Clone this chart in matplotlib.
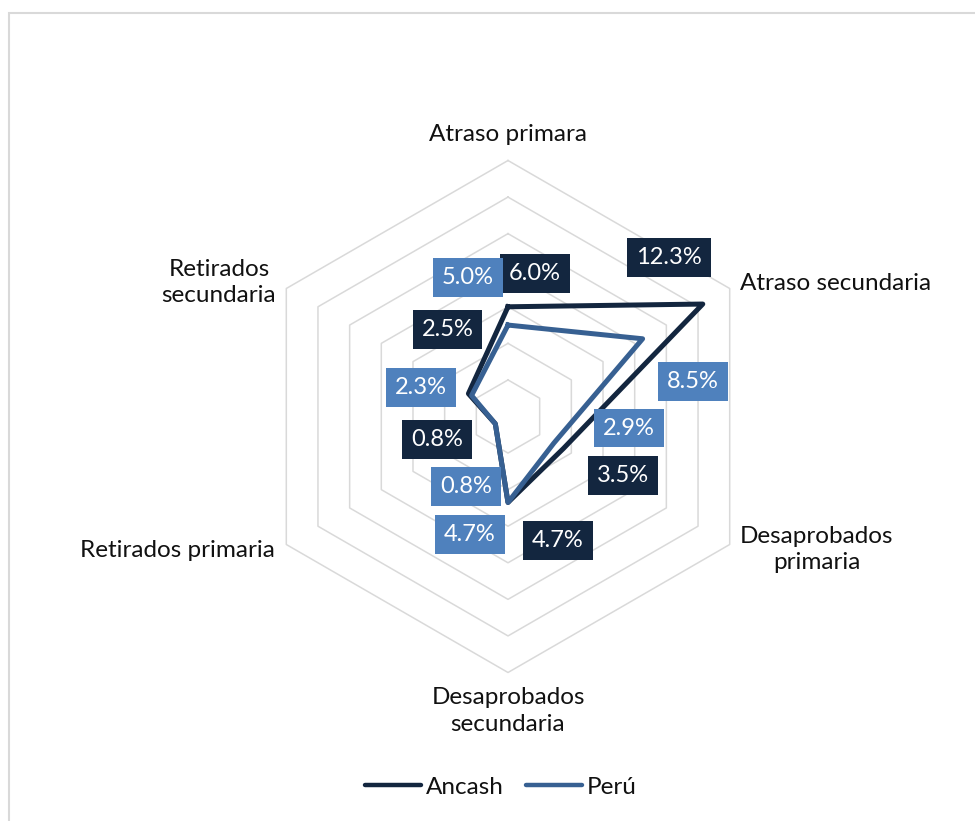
import numpy as np
import matplotlib
matplotlib.use("Agg")
import matplotlib.pyplot as plt
from matplotlib.patches import Rectangle

plt.rcParams["font.family"] = ["Lato", "DejaVu Sans"]

# data
categories = [
    "Atraso primara",
    "Atraso secundaria",
    "Desaprobados\nprimaria",
    "Desaprobados\nsecundaria",
    "Retirados primaria",
    "Retirados\nsecundaria",
]
ancash = [6.0, 12.3, 3.5, 4.7, 0.8, 2.5]
peru = [5.0, 8.5, 2.9, 4.7, 0.8, 2.3]
series_names = ["Ancash", "Perú"]
ring_values = [2, 4, 6, 8, 10, 12, 14]

# styling
c_ancash = "#13263f"
c_peru = "#376092"
box_ancash = "#13263f"
box_peru = "#4f81bd"
grid_c = "#d9d9d9"
txt_c = "#111111"

W, H, DPI = 975, 821, 100
cx_px, cy_px = 508, 416.5          # centre of the radar in pixels (from top)
px_per_unit = 256.0 / 14           # outer ring radius / axis max

fig = plt.figure(figsize=(W / DPI, H / DPI), dpi=DPI)
ax = fig.add_axes([0, 0, 1, 1])
ax.set_xlim(-cx_px / px_per_unit, (W - cx_px) / px_per_unit)
ax.set_ylim(-(H - cy_px) / px_per_unit, cy_px / px_per_unit)
ax.set_aspect("equal")
ax.axis("off")

n = len(categories)
ang = np.deg2rad(np.arange(n) * 360.0 / n)


def to_xy(vals):
    vals = np.asarray(vals, dtype=float)
    return vals * np.sin(ang), vals * np.cos(ang)


# hexagonal grid
for rv in ring_values:
    gx, gy = to_xy([rv] * n)
    ax.plot(np.append(gx, gx[0]), np.append(gy, gy[0]), color=grid_c,
            lw=1.1, zorder=1)

# series
for vals, col in [(ancash, c_ancash), (peru, c_peru)]:
    x, y = to_xy(vals)
    ax.plot(np.append(x, x[0]), np.append(y, y[0]), color=col, lw=3.6,
            solid_joinstyle="round", zorder=3)

# data labels (offsets in pixels from each point)
off_ancash = [(27, 33), (-34, 47), (60, -27), (50, -38), (-58, -16), (-21, 64)]
off_peru = [(-40, 48), (50, -43), (75, 15), (-38, -32), (-29, -63), (-51, 8)]
for vals, offs, bc in [(ancash, off_ancash, box_ancash),
                       (peru, off_peru, box_peru)]:
    x, y = to_xy(vals)
    for xi, yi, v, o in zip(x, y, vals, offs):
        ax.annotate(f"{v:.1f}%", (xi, yi), xytext=o, textcoords="offset pixels",
                    ha="center", va="center", color="white", fontsize=17,
                    bbox=dict(boxstyle="square,pad=0.38", fc=bc, ec="none"),
                    zorder=5)

# category labels around the outer ring
ox, oy = to_xy([ring_values[-1]] * n)
lab_fmt = [
    ((0, 15), "center", "bottom"),
    ((10, 5), "left", "center"),
    ((10, -5), "left", "center"),
    ((0, -15), "center", "top"),
    ((-11, -6), "right", "center"),
    ((-10, 6), "right", "center"),
]
for lbl, xi, yi, (o, ha, va) in zip(categories, ox, oy, lab_fmt):
    ax.annotate(lbl, (xi, yi), xytext=o, textcoords="offset pixels",
                ha=ha, va=va, multialignment="center", fontsize=17.5,
                color=txt_c, linespacing=1.3)

# legend
handles = [plt.Line2D([], [], color=c, lw=3.2, solid_capstyle="round")
           for c in (c_ancash, c_peru)]
fig.legend(handles, series_names, loc="center", ncol=2, frameon=False,
           bbox_to_anchor=(501 / W, 1 - 787 / H), fontsize=17.5,
           handlelength=2.3, handletextpad=0.2, columnspacing=0.9,
           labelcolor=txt_c)

# chart area border
fig.patches.append(Rectangle((8.5 / W, -0.05), 1.1, 1 - 13 / H + 0.05,
                             transform=fig.transFigure, fill=False,
                             ec=grid_c, lw=1.5))

fig.savefig("out.png", dpi=DPI)
